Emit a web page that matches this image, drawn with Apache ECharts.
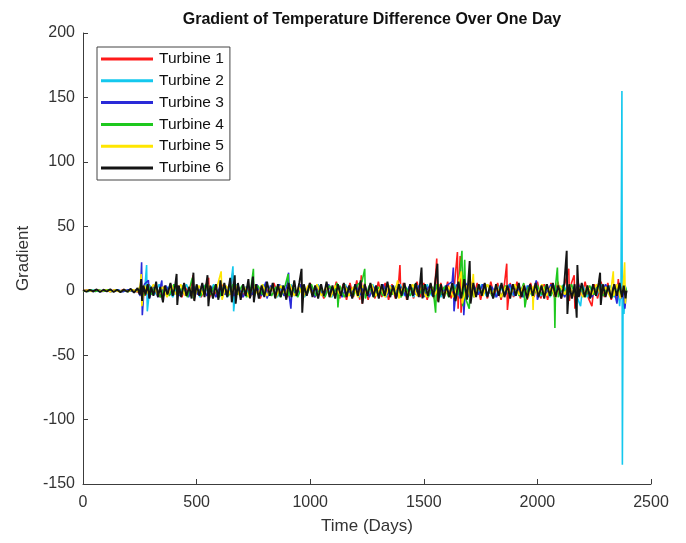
<!DOCTYPE html>
<html>
<head>
<meta charset="utf-8">
<script src="https://cdn.jsdelivr.net/npm/echarts@6/dist/echarts.min.js"></script>
<style>
  html, body { margin: 0; padding: 0; background: #fff; }
  #chart { width: 686px; height: 543px; }
</style>
</head>
<body>
<div id="chart"></div>
<script>
// series names and colours
const names = ['Turbine 1', 'Turbine 2', 'Turbine 3', 'Turbine 4', 'Turbine 5', 'Turbine 6'];
const colors = ['#ff1a1a', '#14c8ee', '#2a2ad8', '#1ec81e', '#ffe600', '#141414'];

// [day, gradient]
const turbine1 = [[0,0],[20,0.6],[40,-0.5],[60,0.8],[80,-0.6],[100,0.5],[120,-0.8],[140,0.7],[160,-0.5],[180,0.9],[200,-0.7],[220,0.6],[240,-1],[262,3],[275,-4],[290,5],[305,-3],[320,4],[340,-5],[355,3],[370,-4],[385,5],[400,-3],[418,4],[435,-5],[450,3],[465,-4],[478,6],[485,12],[488,-7],[500,4],[520,-5],[540,4],[553,10],[556,-6],[570,3],[590,-4],[610,5],[630,-3],[650,6],[660,14],[663,-5],[680,4],[700,-5],[720,3],[740,-4],[760,5],[780,-6],[800,4],[820,-3],[840,6],[860,-4],[880,3],[900,-5],[920,4],[940,-3],[960,5],[980,-4],[1000,6],[1020,-5],[1040,4],[1060,-6],[1080,5],[1100,-4],[1115,7],[1130,-6],[1145,5],[1160,-7],[1175,6],[1190,-5],[1205,8],[1218,-7],[1225,12],[1229,-10],[1240,6],[1255,-7],[1270,5],[1285,-6],[1300,7],[1315,-5],[1330,6],[1345,-7],[1360,5],[1375,-6],[1390,8],[1395,20],[1399,-5],[1410,6],[1425,-7],[1440,5],[1455,-6],[1470,7],[1485,-5],[1500,6],[1515,-7],[1530,5],[1545,-6],[1557,25],[1560,-8],[1575,6],[1590,-5],[1605,7],[1620,-6],[1635,5],[1648,30],[1651,-14],[1660,27],[1664,-17],[1675,8],[1690,-6],[1705,7],[1720,-5],[1735,6],[1750,-7],[1765,5],[1780,-6],[1795,7],[1810,-5],[1825,6],[1840,-7],[1855,5],[1865,21],[1868,-15],[1880,6],[1895,-5],[1910,7],[1925,-6],[1940,5],[1955,-7],[1970,6],[1985,-5],[2000,7],[2015,-6],[2030,5],[2045,-7],[2060,6],[2075,-5],[2090,7],[2105,-6],[2120,5],[2138,17],[2141,-8],[2150,6],[2162,12],[2165,-14],[2180,6],[2195,-5],[2210,7],[2225,-6],[2240,-12],[2250,5],[2265,-6],[2280,7],[2295,-5],[2310,6],[2325,-7],[2340,5],[2350,-6],[2356,9],[2365,-7],[2375,6],[2385,-5],[2392,0]];

const turbine2 = [[0,0],[25,-0.5],[50,0.6],[75,-0.7],[100,0.5],[125,-0.6],[150,0.8],[175,-0.5],[200,0.7],[225,-0.8],[250,2],[270,-3],[280,20],[283,-16],[295,4],[315,-3],[335,5],[355,-4],[375,3],[395,-5],[415,4],[435,-3],[455,5],[475,-4],[495,3],[515,-5],[535,4],[555,-3],[575,5],[595,-4],[615,3],[635,-5],[650,4],[660,19],[663,-16],[675,5],[695,-4],[715,3],[735,-5],[755,4],[775,-3],[795,5],[815,-4],[835,3],[855,-5],[875,4],[895,-3],[915,5],[935,-4],[955,3],[975,-5],[995,4],[1015,-3],[1035,5],[1055,-4],[1075,3],[1095,-5],[1115,4],[1135,-3],[1155,5],[1175,-4],[1195,3],[1215,-5],[1235,4],[1255,-3],[1275,5],[1295,-4],[1315,3],[1335,-5],[1355,4],[1375,-3],[1395,5],[1415,-4],[1435,3],[1455,-5],[1475,4],[1495,-3],[1515,5],[1535,-4],[1555,3],[1575,-5],[1595,4],[1615,-3],[1635,5],[1655,-4],[1675,3],[1695,-5],[1715,4],[1735,-3],[1755,5],[1775,-4],[1795,3],[1815,-5],[1835,4],[1855,-3],[1875,5],[1895,-4],[1915,3],[1935,-5],[1955,4],[1975,-3],[1995,5],[2015,-4],[2035,3],[2055,-5],[2075,4],[2095,-3],[2115,5],[2135,-4],[2155,3],[2175,-5],[2190,-12],[2200,4],[2220,-5],[2240,3],[2260,-4],[2280,5],[2300,-3],[2320,4],[2340,-5],[2355,3],[2362,-12],[2368,2],[2372,155],[2374,-135],[2377,-5],[2381,-18],[2386,4],[2392,0]];

const turbine3 = [[0,0],[22,0.6],[44,-0.7],[66,0.5],[88,-0.6],[110,0.8],[132,-0.5],[154,0.6],[176,-0.8],[198,0.7],[220,-0.6],[240,1],[252,-4],[258,22],[261,-19],[270,5],[288,8],[292,-6],[310,4],[330,-5],[347,8],[350,-7],[365,4],[385,-3],[405,5],[425,-4],[445,3],[465,-5],[485,4],[505,-3],[525,5],[545,-4],[565,3],[585,-5],[605,4],[625,-3],[645,5],[665,-4],[685,3],[705,-5],[725,4],[745,-3],[765,5],[785,-4],[805,7],[810,-6],[825,4],[845,-3],[865,5],[885,-4],[900,6],[905,14],[908,-4],[915,-14],[920,3],[940,-4],[960,5],[980,-3],[1000,4],[1020,-5],[1040,3],[1060,-4],[1080,5],[1100,-3],[1120,4],[1140,-5],[1160,3],[1180,-4],[1200,5],[1220,-3],[1240,4],[1260,-5],[1280,3],[1300,-4],[1320,5],[1340,-3],[1360,4],[1380,-5],[1400,3],[1420,-4],[1440,5],[1460,-3],[1480,4],[1500,-5],[1520,3],[1540,-4],[1560,5],[1580,-3],[1600,4],[1625,7],[1630,18],[1633,-16],[1645,5],[1660,-6],[1672,12],[1676,-19],[1685,6],[1700,-5],[1720,4],[1740,-3],[1760,5],[1780,-4],[1800,3],[1820,-5],[1840,4],[1860,-3],[1880,5],[1900,-4],[1920,3],[1940,-5],[1960,4],[1980,-3],[1995,8],[2000,-7],[2020,4],[2040,-3],[2060,5],[2080,-4],[2100,3],[2120,-5],[2140,4],[2160,-3],[2180,5],[2200,-4],[2220,3],[2240,-5],[2260,4],[2280,-3],[2300,5],[2320,-4],[2335,3],[2350,-10],[2360,4],[2370,-6],[2378,3],[2385,-14],[2392,0]];

const turbine4 = [[0,0],[18,-0.6],[36,0.5],[54,-0.7],[72,0.6],[90,-0.5],[108,0.8],[126,-0.6],[144,0.5],[162,-0.7],[180,0.6],[198,-0.8],[216,0.7],[234,-0.6],[250,2],[268,-4],[285,5],[300,-3],[320,4],[340,-5],[360,3],[380,-4],[400,5],[420,-3],[440,4],[460,-5],[478,8],[482,10],[486,-6],[500,3],[520,-4],[540,5],[560,-3],[580,4],[600,-5],[620,3],[640,-4],[660,5],[680,-3],[700,4],[720,-5],[740,3],[750,17],[753,-5],[770,4],[790,-3],[810,5],[830,-4],[850,3],[870,-5],[890,4],[903,13],[906,-4],[925,3],[945,-5],[965,4],[985,-3],[1005,5],[1025,-4],[1045,3],[1065,-5],[1085,4],[1105,-3],[1118,6],[1122,-13],[1130,4],[1150,-5],[1170,3],[1190,-4],[1210,5],[1228,7],[1240,17],[1243,-6],[1260,4],[1280,-5],[1300,3],[1320,-4],[1340,5],[1360,-3],[1380,4],[1400,-5],[1420,3],[1440,-4],[1460,5],[1480,-3],[1500,4],[1520,-5],[1540,3],[1552,-17],[1556,5],[1570,-4],[1590,3],[1610,-5],[1630,4],[1650,-3],[1668,31],[1671,-12],[1680,24],[1684,-6],[1700,-14],[1705,6],[1720,-5],[1740,4],[1760,-3],[1780,5],[1800,-4],[1820,3],[1840,-5],[1860,4],[1880,-3],[1900,5],[1920,-4],[1940,6],[1945,-13],[1960,3],[1980,-5],[2000,4],[2020,-3],[2040,5],[2060,-4],[2074,3],[2077,-29],[2080,4],[2088,18],[2092,-5],[2110,4],[2130,-3],[2150,5],[2170,-4],[2190,3],[2210,-5],[2230,4],[2250,-3],[2270,5],[2290,-4],[2310,3],[2330,-5],[2350,4],[2370,-3],[2385,4],[2392,0]];

const turbine5 = [[0,0],[20,0.5],[40,-0.6],[60,0.7],[80,-0.5],[100,0.6],[120,-0.7],[140,0.5],[160,-0.8],[180,0.6],[200,-0.5],[220,0.7],[240,-0.6],[252,4],[256,13],[259,-12],[270,4],[290,-3],[310,5],[330,-4],[350,3],[370,-5],[390,4],[410,-3],[430,5],[450,-4],[470,3],[490,-5],[510,4],[530,-3],[550,5],[570,-4],[590,3],[608,15],[612,-7],[630,4],[650,-3],[670,5],[690,-4],[710,3],[730,-5],[750,4],[770,-3],[790,5],[810,-4],[830,3],[850,-5],[870,4],[890,-3],[910,5],[930,-4],[950,3],[970,-5],[990,4],[1010,-3],[1030,5],[1050,-4],[1070,3],[1090,-5],[1110,4],[1130,-3],[1150,5],[1170,-4],[1190,3],[1210,-5],[1230,4],[1250,-3],[1270,5],[1290,-4],[1310,3],[1330,-5],[1350,4],[1370,-3],[1385,8],[1390,-6],[1410,4],[1430,-3],[1450,5],[1470,-4],[1490,3],[1510,-5],[1530,4],[1550,-3],[1570,5],[1590,-4],[1610,3],[1630,-5],[1650,4],[1665,15],[1669,-10],[1690,4],[1705,-6],[1718,13],[1722,-5],[1740,3],[1760,-4],[1780,5],[1800,-3],[1820,4],[1840,-5],[1860,3],[1880,-4],[1900,5],[1920,-3],[1940,4],[1960,-5],[1978,3],[1981,-15],[1985,4],[2000,-3],[2020,5],[2040,-4],[2060,3],[2080,-5],[2100,4],[2120,-3],[2140,5],[2160,-4],[2180,3],[2200,-5],[2220,4],[2240,-3],[2260,5],[2280,-4],[2300,3],[2320,-5],[2334,15],[2337,-4],[2350,5],[2365,-6],[2378,4],[2384,22],[2387,-10],[2392,0]];

const turbine6 = [[0,0.5],[15,-0.8],[30,0.6],[45,-0.5],[60,1],[75,-1],[90,0.8],[105,-0.6],[120,1.2],[135,-1],[150,0.7],[165,-1.2],[180,1],[195,-0.8],[210,1.5],[225,-1.5],[240,2],[250,-3],[256,9],[260,-8],[266,4],[275,-3],[285,5],[292,-6],[300,3],[310,-4],[322,7],[330,-5],[340,3],[352,-9],[360,4],[372,-3],[385,6],[395,-4],[405,3],[412,13],[415,-11],[422,4],[432,-5],[445,6],[455,-4],[468,3],[478,-6],[486,14],[490,-8],[500,5],[512,-4],[525,6],[535,-5],[548,12],[552,-12],[560,4],[572,-6],[585,5],[596,-7],[605,8],[612,-4],[622,6],[635,-5],[648,10],[655,-9],[668,12],[672,-10],[682,6],[694,-7],[705,5],[716,-4],[728,9],[735,-6],[748,11],[752,-9],[762,5],[774,-6],[786,4],[798,-5],[810,7],[822,-4],[835,6],[846,-6],[858,5],[870,-5],[882,4],[895,-7],[905,6],[918,-5],[930,8],[940,-4],[952,6],[962,17],[965,-17],[972,5],[985,-4],[998,6],[1010,-5],[1022,4],[1035,-6],[1048,5],[1060,-4],[1072,7],[1085,-5],[1098,4],[1110,-6],[1122,5],[1135,-4],[1148,6],[1160,-5],[1172,4],[1185,-6],[1198,5],[1210,-4],[1222,8],[1230,-10],[1240,5],[1252,-4],[1265,6],[1278,-5],[1290,4],[1302,-6],[1315,5],[1328,-4],[1340,7],[1352,-5],[1365,4],[1378,-6],[1390,5],[1402,-4],[1415,6],[1428,-7],[1440,5],[1452,-4],[1465,6],[1478,-5],[1490,18],[1494,-6],[1505,5],[1518,-4],[1530,6],[1542,-5],[1560,21],[1564,-9],[1575,5],[1588,-6],[1600,4],[1612,-5],[1625,6],[1640,-8],[1652,7],[1665,-6],[1678,9],[1690,-7],[1702,23],[1706,-10],[1718,6],[1730,-5],[1742,5],[1755,-4],[1768,6],[1780,-5],[1792,4],[1805,-6],[1818,5],[1830,-4],[1842,6],[1855,-5],[1868,4],[1880,-6],[1892,5],[1905,-4],[1918,6],[1930,-5],[1942,4],[1955,-6],[1968,5],[1980,-4],[1992,6],[2005,-5],[2018,4],[2030,-6],[2042,5],[2055,-4],[2068,6],[2080,-5],[2092,4],[2105,-6],[2118,5],[2129,31],[2132,-18],[2140,5],[2152,-6],[2164,5],[2173,-21],[2176,20],[2182,-5],[2195,6],[2208,-5],[2220,4],[2232,-6],[2245,5],[2258,-4],[2270,6],[2276,14],[2279,-11],[2288,5],[2300,-5],[2312,4],[2325,-6],[2338,5],[2350,-4],[2362,6],[2372,-5],[2380,4],[2388,-6],[2392,0]];

const allData = [turbine1, turbine2, turbine3, turbine4, turbine5, turbine6];

const xTicks = { min: 0, max: 2500, interval: 500 };
const yTicks = { min: -150, max: 200, interval: 50 };

const font = "'Liberation Sans', Arial, Helvetica, sans-serif";
const axisColor = '#3c3c3c';

const chart = echarts.init(document.getElementById('chart'));

const option = {
  animation: false,
  backgroundColor: '#fff',
  title: {
    text: 'Gradient of Temperature Difference Over One Day',
    left: 367,
    top: 7,
    textAlign: 'center',
    textStyle: { fontFamily: font, fontSize: 16, fontWeight: 'bold', color: '#111' }
  },
  grid: { left: 83, right: 35, top: 33, bottom: 59, containLabel: false },
  legend: {
    orient: 'vertical',
    left: 97,
    top: 47,
    padding: [4, 6, 4, 4],
    itemGap: 5.8,
    itemWidth: 52,
    itemHeight: 3,
    icon: 'rect',
    borderColor: '#444',
    borderWidth: 1,
    backgroundColor: '#fff',
    data: names,
    textStyle: { fontFamily: font, fontSize: 15.5, color: '#111', lineHeight: 16, padding: [0, 0, 0, 1] }
  },
  xAxis: {
    type: 'value',
    min: xTicks.min,
    max: xTicks.max,
    interval: xTicks.interval,
    name: 'Time (Days)',
    nameLocation: 'middle',
    nameGap: 34,
    nameTextStyle: { fontFamily: font, fontSize: 17, color: '#333' },
    axisLine: { show: true, onZero: false, lineStyle: { color: axisColor, width: 1 } },
    axisTick: { show: true, inside: true, length: 5, lineStyle: { color: axisColor } },
    axisLabel: { margin: 11, fontFamily: font, fontSize: 16, color: '#333', formatter: v => String(v) },
    splitLine: { show: false }
  },
  yAxis: {
    type: 'value',
    min: yTicks.min,
    max: yTicks.max,
    interval: yTicks.interval,
    name: 'Gradient',
    nameLocation: 'middle',
    nameGap: 48,
    nameTextStyle: { fontFamily: font, fontSize: 17, color: '#333' },
    axisLine: { show: true, onZero: false, lineStyle: { color: axisColor, width: 1 } },
    axisTick: { show: true, inside: true, length: 5, lineStyle: { color: axisColor } },
    axisLabel: { margin: 8, fontFamily: font, fontSize: 16, color: '#333', formatter: v => String(v) },
    splitLine: { show: false }
  },
  series: allData.map((d, i) => ({
    name: names[i],
    type: 'line',
    data: d,
    showSymbol: false,
    symbol: 'none',
    color: colors[i],
    lineStyle: { width: i === 5 ? 1.9 : 1.6, color: colors[i] },
    z: 2 + i
  }))
};

chart.setOption(option);
</script>
</body>
</html>
